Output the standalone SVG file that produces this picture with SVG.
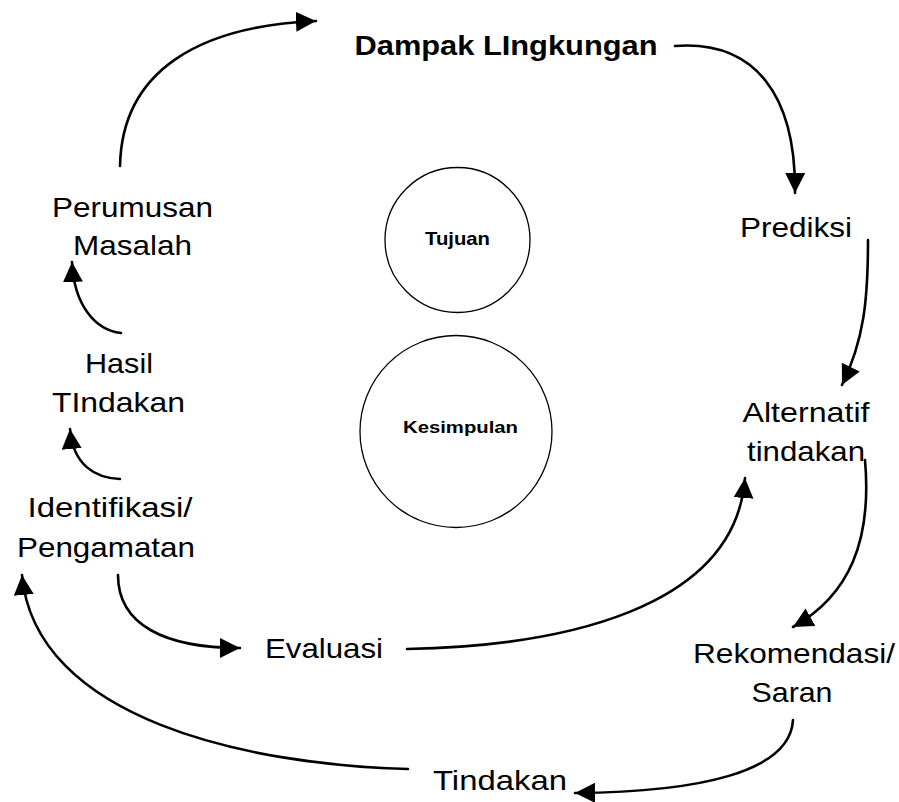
<svg xmlns="http://www.w3.org/2000/svg" width="899" height="802" viewBox="0 0 899 802">
<style>
.t{font-family:"Liberation Sans",Arial,sans-serif;font-size:28px;fill:#000;text-anchor:middle}
.b{font-weight:bold}
.s{font-family:"Liberation Sans",Arial,sans-serif;font-size:17px;font-weight:bold;fill:#000;text-anchor:middle}
.c{fill:none;stroke:#000;stroke-width:1.3}
.e{fill:none;stroke:#000;stroke-width:2.6;stroke-linecap:round}
</style>
<defs>
<marker id="ah" markerUnits="userSpaceOnUse" markerWidth="22" markerHeight="22" refX="20" refY="10" orient="auto">
<path d="M0,0 L20,10 L0,20 Z" fill="#000"/>
</marker>
</defs>
<rect width="899" height="802" fill="#fff"/>
<g id="connectors">
<path class="e" d="M120,166 C122,70 200,26 316,21" marker-end="url(#ah)"/>
<path class="e" d="M675,46 C755,40 796,95 795,193" marker-end="url(#ah)"/>
<path class="e" d="M868,240 C868,300 864,340 842,385" marker-end="url(#ah)"/>
<path class="e" d="M865,460 C872,540 850,595 793,627" marker-end="url(#ah)"/>
<path class="e" d="M407,649 C560,646 735,610 745,478" marker-end="url(#ah)"/>
<path class="e" d="M118,575 C118,625 165,648 240,648" marker-end="url(#ah)"/>
<path class="e" d="M793,720 C790,772 700,792 575,793" marker-end="url(#ah)"/>
<path class="e" d="M408,769 C250,765 35,720 22,575" marker-end="url(#ah)"/>
<path class="e" d="M120,479 C95,478 73,465 70,429" marker-end="url(#ah)"/>
<path class="e" d="M121,333 C95,330 74,305 72,262" marker-end="url(#ah)"/>
</g>
<g id="dampak"><text class="t b" x="506" y="55" textLength="303" lengthAdjust="spacingAndGlyphs">Dampak LIngkungan</text></g>
<g id="prediksi"><text class="t" x="796" y="237" textLength="112" lengthAdjust="spacingAndGlyphs">Prediksi</text></g>
<g id="alternatif">
<text class="t" x="806" y="422" textLength="127" lengthAdjust="spacingAndGlyphs">Alternatif</text>
<text class="t" x="806" y="461" textLength="118" lengthAdjust="spacingAndGlyphs">tindakan</text>
</g>
<g id="rekomendasi">
<text class="t" x="794" y="663" textLength="202" lengthAdjust="spacingAndGlyphs">Rekomendasi/</text>
<text class="t" x="792" y="702" textLength="81" lengthAdjust="spacingAndGlyphs">Saran</text>
</g>
<g id="tindakan"><text class="t" x="500" y="790" textLength="134" lengthAdjust="spacingAndGlyphs">Tindakan</text></g>
<g id="evaluasi"><text class="t" x="324" y="658" textLength="118" lengthAdjust="spacingAndGlyphs">Evaluasi</text></g>
<g id="identifikasi">
<text class="t" x="110" y="517" textLength="165" lengthAdjust="spacingAndGlyphs">Identifikasi/</text>
<text class="t" x="106" y="557" textLength="178" lengthAdjust="spacingAndGlyphs">Pengamatan</text>
</g>
<g id="hasil">
<text class="t" x="119" y="373" textLength="68" lengthAdjust="spacingAndGlyphs">Hasil</text>
<text class="t" x="118.5" y="412" textLength="133" lengthAdjust="spacingAndGlyphs">TIndakan</text>
</g>
<g id="perumusan">
<text class="t" x="132.5" y="217" textLength="161" lengthAdjust="spacingAndGlyphs">Perumusan</text>
<text class="t" x="132.5" y="255" textLength="119" lengthAdjust="spacingAndGlyphs">Masalah</text>
</g>
<g id="tujuan">
<circle class="c" cx="457.5" cy="240" r="72.5"/>
<text class="s" x="457.5" y="245" style="font-size:19px" textLength="65" lengthAdjust="spacingAndGlyphs">Tujuan</text>
</g>
<g id="kesimpulan">
<circle class="c" cx="456" cy="431.5" r="96"/>
<text class="s" x="460.5" y="433" textLength="115" lengthAdjust="spacingAndGlyphs">Kesimpulan</text>
</g>
</svg>
